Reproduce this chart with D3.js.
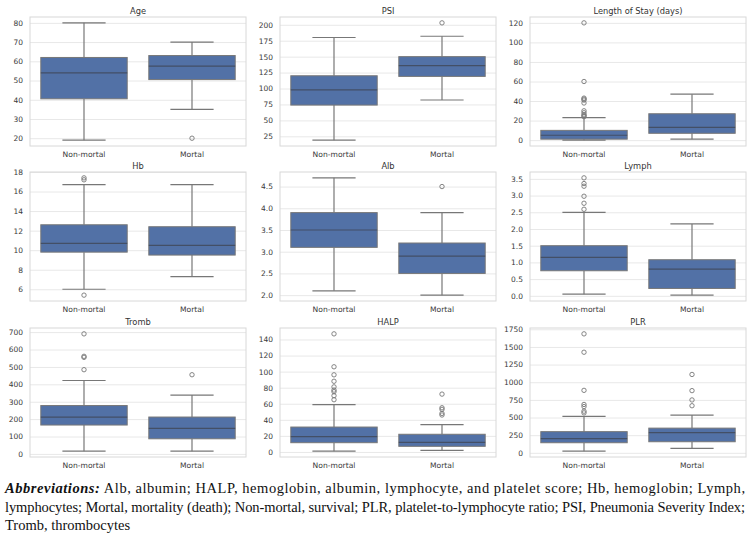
<!DOCTYPE html>
<html>
<head>
<meta charset="utf-8">
<title>Box plots by outcome</title>
<script src="https://cdn.jsdelivr.net/npm/d3@7"></script>
<style>
  body { margin: 0; background: #fff; }
  .axis text { font-family: "DejaVu Sans", sans-serif; fill: #3a3a3a; }
</style>
</head>
<body>
<script>
// groups on every x axis
var groups = ["Non-mortal", "Mortal"];

// box stats per group: [low whisker, Q1, median, Q3, high whisker]
var ageStats = [[19, 40.5, 54, 62, 80], [35, 50.5, 57.5, 63, 70]];
var ageOutliers = [[], [20]];
var ageTicks = [20, 30, 40, 50, 60, 70, 80];

var psiStats = [[19, 74, 98, 120, 180], [82, 119, 136, 150, 182]];
var psiOutliers = [[], [203]];
var psiTicks = [25, 50, 75, 100, 125, 150, 175, 200];

var losStats = [[0, 1, 5, 10, 23], [1, 7, 13, 27, 47]];
var losOutliers = [[120, 60, 43, 42, 41, 38, 30, 28, 26, 25, 24], []];
var losTicks = [0, 20, 40, 60, 80, 100, 120];

var hbStats = [[6.0, 9.8, 10.7, 12.6, 16.7], [7.3, 9.5, 10.5, 12.4, 16.7]];
var hbOutliers = [[17.4, 17.2, 5.4], []];
var hbTicks = [6, 8, 10, 12, 14, 16, 18];

var albStats = [[2.1, 3.1, 3.5, 3.9, 4.7], [2.0, 2.5, 2.9, 3.2, 3.9]];
var albOutliers = [[], [4.5]];
var albTicks = [2.0, 2.5, 3.0, 3.5, 4.0, 4.5];

var lymphStats = [[0.05, 0.75, 1.15, 1.5, 2.5], [0.02, 0.22, 0.8, 1.08, 2.15]];
var lymphOutliers = [[3.53, 3.36, 3.28, 2.98, 2.77, 2.59], []];
var lymphTicks = [0.0, 0.5, 1.0, 1.5, 2.0, 2.5, 3.0, 3.5];

var trombStats = [[16, 166, 212, 278, 422], [16, 87, 147, 212, 338]];
var trombOutliers = [[690, 561, 555, 484], [455]];
var trombTicks = [0, 100, 200, 300, 400, 500, 600, 700];

var halpStats = [[1, 11.5, 19, 31, 59], [2, 7, 12, 22, 34]];
var halpOutliers = [[147, 106, 96, 88, 81, 77, 75, 70, 65], [72, 55, 53, 48, 46]];
var halpTicks = [0, 20, 40, 60, 80, 100, 120, 140];

var plrStats = [[24, 143, 200, 300, 515], [63, 157, 285, 350, 535]];
var plrOutliers = [[1685, 1425, 885, 685, 655, 590, 566], [1110, 881, 749, 667]];
var plrTicks = [0, 250, 500, 750, 1000, 1250, 1500, 1750];

var titles = ["Age", "PSI", "Length of Stay (days)", "Hb", "Alb", "Lymph", "Tromb", "HALP", "PLR"];

var footLines = [
  "Alb, albumin; HALP, hemoglobin, albumin, lymphocyte, and platelet score; Hb, hemoglobin; Lymph,",
  "lymphocytes; Mortal, mortality (death); Non-mortal, survival; PLR, platelet-to-lymphocyte ratio; PSI, Pneumonia Severity Index;",
  "Tromb, thrombocytes"
];

var panels = [
  { stats: ageStats, out: ageOutliers, ticks: ageTicks, fmt: "d" },
  { stats: psiStats, out: psiOutliers, ticks: psiTicks, fmt: "d" },
  { stats: losStats, out: losOutliers, ticks: losTicks, fmt: "d" },
  { stats: hbStats, out: hbOutliers, ticks: hbTicks, fmt: "d" },
  { stats: albStats, out: albOutliers, ticks: albTicks, fmt: ".1f" },
  { stats: lymphStats, out: lymphOutliers, ticks: lymphTicks, fmt: ".1f" },
  { stats: trombStats, out: trombOutliers, ticks: trombTicks, fmt: "d" },
  { stats: halpStats, out: halpOutliers, ticks: halpTicks, fmt: "d" },
  { stats: plrStats, out: plrOutliers, ticks: plrTicks, fmt: "d" }
];

var W = 752, H = 535;
var colLeft = [30, 280, 530], colW = 216;
var rowTop = [17, 172, 328], rowH = 129;

var boxFill = "#5271a6", lineCol = "#777", medCol = "#434f66";

var svg = d3.select("body").append("svg")
    .attr("width", W)
    .attr("height", H)
    .style("display", "block");

panels.forEach(function(p, i) {
  var left = colLeft[i % 3], top = rowTop[Math.floor(i / 3)];
  var g = svg.append("g").attr("transform", "translate(" + left + "," + top + ")");

  var all = [];
  p.stats.forEach(function(s, k) { all = all.concat(s, p.out[k]); });
  var lo = d3.min(all), hi = d3.max(all), pad = (hi - lo) * 0.05;

  var x = d3.scaleBand().domain(groups).range([0, colW])
      .paddingInner(0.2).paddingOuter(0.1);
  var y = d3.scaleLinear().domain([lo - pad, hi + pad]).range([rowH, 0]);

  // grid + y labels
  var ya = g.append("g").attr("class", "axis")
      .call(d3.axisLeft(y).tickValues(p.ticks).tickFormat(d3.format(p.fmt))
        .tickSize(-colW).tickPadding(7));
  ya.select(".domain").remove();
  ya.selectAll("line").attr("stroke", "#e8e8e8").attr("stroke-width", 1);
  ya.selectAll("text").style("font-size", "7.5px");

  var xa = g.append("g").attr("class", "axis")
      .attr("transform", "translate(0," + rowH + ")")
      .call(d3.axisBottom(x).tickSize(0).tickPadding(6));
  xa.select(".domain").remove();
  xa.selectAll("text").style("font-size", "7.6px");

  g.append("rect")
      .attr("width", colW).attr("height", rowH)
      .attr("fill", "none").attr("stroke", "#d8d8d8");

  g.append("text")
      .attr("x", colW / 2).attr("y", -3)
      .attr("text-anchor", "middle")
      .style("font-family", "DejaVu Sans, sans-serif")
      .style("font-size", "8.3px").style("fill", "#333")
      .text(titles[i]);

  groups.forEach(function(gr, k) {
    var s = p.stats[k];
    var bx = x(gr), bw = x.bandwidth(), cx = bx + bw / 2;
    var bg = g.append("g");

    bg.append("line").attr("x1", cx).attr("x2", cx)
        .attr("y1", y(s[0])).attr("y2", y(s[1]))
        .attr("stroke", lineCol).attr("stroke-width", 1.2);
    bg.append("line").attr("x1", cx).attr("x2", cx)
        .attr("y1", y(s[3])).attr("y2", y(s[4]))
        .attr("stroke", lineCol).attr("stroke-width", 1.2);
    [s[0], s[4]].forEach(function(v) {
      bg.append("line").attr("x1", cx - bw / 4).attr("x2", cx + bw / 4)
          .attr("y1", y(v)).attr("y2", y(v))
          .attr("stroke", lineCol).attr("stroke-width", 1.2);
    });

    bg.append("rect")
        .attr("x", bx).attr("width", bw)
        .attr("y", y(s[3])).attr("height", y(s[1]) - y(s[3]))
        .attr("fill", boxFill).attr("stroke", lineCol).attr("stroke-width", 1);

    bg.append("line").attr("x1", bx).attr("x2", bx + bw)
        .attr("y1", y(s[2])).attr("y2", y(s[2]))
        .attr("stroke", medCol).attr("stroke-width", 1.2);

    bg.selectAll("circle").data(p.out[k]).join("circle")
        .attr("cx", cx).attr("cy", function(d) { return y(d); })
        .attr("r", 2.2)
        .attr("fill", "none").attr("stroke", lineCol).attr("stroke-width", 0.9);
  });
});

// footnote
var foot = svg.append("g")
    .style("font-family", "Liberation Serif, serif")
    .style("font-size", "14.5px")
    .style("fill", "#111");

var t1 = foot.append("text").attr("x", 5).attr("y", 493)
    .attr("textLength", 740).attr("lengthAdjust", "spacing");
t1.append("tspan").style("font-weight", "bold").style("font-style", "italic").text("Abbreviations:");
t1.append("tspan").text(" " + footLines[0]);

foot.append("text").attr("x", 5).attr("y", 512)
    .attr("textLength", 740).attr("lengthAdjust", "spacing")
    .text(footLines[1]);

foot.append("text").attr("x", 5).attr("y", 530)
    .text(footLines[2]);
</script>
</body>
</html>
